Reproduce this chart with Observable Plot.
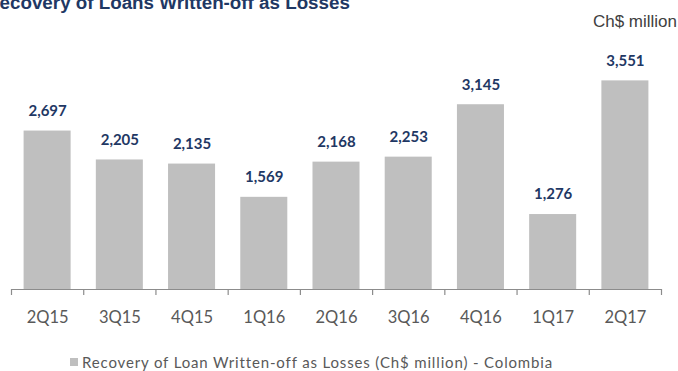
<!DOCTYPE html>
<html>
<head>
<meta charset="utf-8">
<script src="https://cdn.jsdelivr.net/npm/d3@7"></script>
<script src="https://cdn.jsdelivr.net/npm/@observablehq/plot@0.6"></script>
<style>
  html, body { margin: 0; padding: 0; background: #fff; }
  #wrap { position: relative; width: 678px; height: 371px; overflow: hidden; }
  #title { position: absolute; left: -14px; top: -8px; font: bold 18.8px "Liberation Sans", Arial, sans-serif; color: #1f3864; white-space: nowrap; }
  #unit { position: absolute; right: 1px; top: 12px; font: 17px "Liberation Sans", Arial, sans-serif; color: #404040; white-space: nowrap; }
  #chart { position: absolute; left: 0; top: 0; }
  #legend { position: absolute; left: 70px; top: 353px; font: 15px Lato, sans-serif; letter-spacing: 0.85px; color: #595959; white-space: nowrap; display: flex; align-items: center; }
  #legend .sw { width: 8px; height: 8px; background: #bfbfbf; margin-right: 4px; }
</style>
</head>
<body>
<div id="wrap">
  <div id="chart"></div>
  <div id="title">Recovery of Loans Written-off as Losses</div>
  <div id="unit">Ch$ million</div>
  <div id="legend"><span class="sw"></span><span>Recovery of Loan Written-off as Losses (Ch$ million) - Colombia</span></div>
</div>
<script>
const quarters = ["2Q15", "3Q15", "4Q15", "1Q16", "2Q16", "3Q16", "4Q16", "1Q17", "2Q17"];
const values = [2697, 2205, 2135, 1569, 2168, 2253, 3145, 1276, 3551];

const data = quarters.map((q, i) => ({q, i, v: values[i]}));
const fmt = d3.format(",");

const chart = Plot.plot({
  width: 678,
  height: 340,
  marginLeft: 11,
  marginRight: 17,
  marginTop: 54,
  marginBottom: 51,
  x: {type: "linear", domain: [0, quarters.length]},
  y: {domain: [0, 4000], axis: null},
  style: {background: "transparent"},
  marks: [
    Plot.rectY(data, {x1: d => d.i, x2: d => d.i + 1, y: "v", fill: "#bfbfbf", insetLeft: 12.6, insetRight: 12.6}),
    Plot.ruleY([0], {stroke: "#8c8c8c", strokeWidth: 1.2}),
    Plot.axisX({ticks: d3.range(quarters.length + 1), tickSize: 6, tickFormat: () => "", stroke: "#8c8c8c", strokeWidth: 1.2}),
    Plot.text(data, {x: d => d.i + 0.5, y: "v", text: d => fmt(d.v), dy: -20, fill: "#1f3864", fontWeight: "bold", fontSize: 15, fontFamily: "Lato, sans-serif"}),
    Plot.text(data, {x: d => d.i + 0.5, y: 0, text: "q", dy: 28, fill: "#595959", fontSize: 16.5, fontFamily: "Lato, sans-serif"})
  ]
});
document.getElementById("chart").appendChild(chart);
</script>
</body>
</html>
